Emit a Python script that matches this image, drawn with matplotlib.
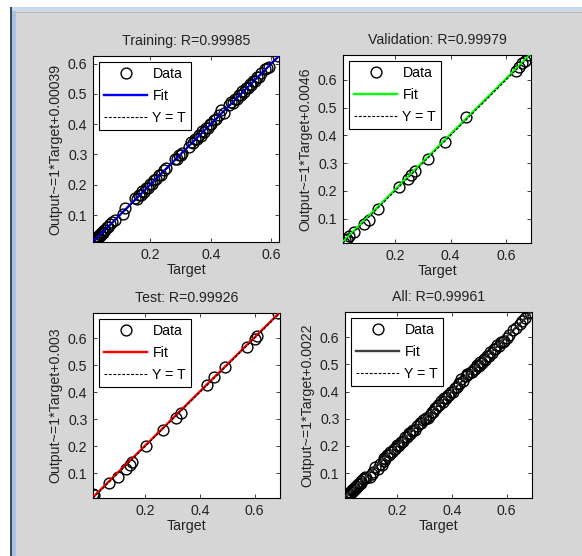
import numpy as np
import matplotlib
matplotlib.use("Agg")
import matplotlib.pyplot as plt
from matplotlib.patches import Rectangle

plt.rcParams['font.family'] = ['Liberation Sans', 'DejaVu Sans']

# ---------------- data ----------------
train_target = [0.011, 0.015, 0.018, 0.021, 0.024, 0.027, 0.030, 0.033, 0.036, 0.040,
                0.044, 0.048, 0.052, 0.057, 0.062, 0.068, 0.075, 0.082, 0.110, 0.118,
                0.150, 0.156, 0.162, 0.168, 0.174, 0.180, 0.186, 0.192, 0.198, 0.205,
                0.212, 0.220, 0.228, 0.236, 0.244, 0.252, 0.282, 0.288, 0.294, 0.300,
                0.306, 0.328, 0.336, 0.342, 0.348, 0.354, 0.360, 0.366, 0.372, 0.378,
                0.384, 0.390, 0.396, 0.402, 0.410, 0.418, 0.426, 0.434, 0.442, 0.460,
                0.468, 0.474, 0.480, 0.486, 0.492, 0.498, 0.504, 0.510, 0.516, 0.522,
                0.528, 0.534, 0.540, 0.546, 0.552, 0.558, 0.566, 0.578, 0.586, 0.592,
                0.622]
train_output = [0.012, 0.017, 0.016, 0.024, 0.022, 0.030, 0.028, 0.036, 0.034, 0.043,
                0.041, 0.051, 0.050, 0.060, 0.059, 0.071, 0.078, 0.085, 0.103, 0.124,
                0.156, 0.152, 0.166, 0.165, 0.178, 0.177, 0.190, 0.189, 0.202, 0.203,
                0.216, 0.218, 0.232, 0.233, 0.248, 0.254, 0.285, 0.286, 0.297, 0.298,
                0.304, 0.326, 0.340, 0.338, 0.352, 0.351, 0.364, 0.362, 0.376, 0.375,
                0.388, 0.387, 0.400, 0.399, 0.414, 0.416, 0.430, 0.446, 0.438, 0.464,
                0.472, 0.471, 0.484, 0.483, 0.496, 0.495, 0.508, 0.506, 0.520, 0.518,
                0.532, 0.530, 0.544, 0.542, 0.556, 0.555, 0.570, 0.582, 0.584, 0.588,
                0.625]

val_target = [0.014, 0.020, 0.026, 0.035, 0.051, 0.086, 0.106, 0.137, 0.215, 0.245,
              0.256, 0.272, 0.319, 0.379, 0.456, 0.636, 0.648, 0.658, 0.668, 0.678]
val_output = [0.012, 0.022, 0.025, 0.036, 0.052, 0.080, 0.096, 0.135, 0.214, 0.243,
              0.257, 0.272, 0.314, 0.377, 0.465, 0.634, 0.648, 0.660, 0.670, 0.690]

test_target = [0.008, 0.012, 0.068, 0.098, 0.128, 0.145, 0.150, 0.203, 0.265, 0.312,
               0.330, 0.424, 0.452, 0.492, 0.572, 0.600, 0.608, 0.684]
test_output = [0.022, 0.020, 0.065, 0.087, 0.115, 0.131, 0.143, 0.199, 0.258, 0.304,
               0.324, 0.427, 0.456, 0.493, 0.567, 0.596, 0.608, 0.693]

titles = ["Training: R=0.99985", "Validation: R=0.99979", "Test: R=0.99926", "All: R=0.99961"]
fit_slopes = [1.0, 1.0, 1.0, 1.0]
fit_offsets = [0.00039, 0.0046, 0.003, 0.0022]
ylabels = ["Output~=1*Target+0.00039", "Output~=1*Target+0.0046",
           "Output~=1*Target+0.003", "Output~=1*Target+0.0022"]
fit_colors = ["#0000ff", "#00ff00", "#ff0000", "#404040"]
legend_labels = ["Data", "Fit", "Y = T"]
xticks = [0.2, 0.4, 0.6]
yticks = [0.1, 0.2, 0.3, 0.4, 0.5, 0.6]

all_target = train_target + val_target + test_target
all_output = train_output + val_output + test_output
targets = [train_target, val_target, test_target, all_target]
outputs = [train_output, val_output, test_output, all_output]

# ---------------- figure ----------------
W, H = 582, 556
bg = "#d6d6d6"
fs = 10.2
fig = plt.figure(figsize=(W / 100, H / 100), dpi=100, facecolor=bg)

def px_rect(x0, y0, x1, y1, color, z=0):
    fig.patches.append(Rectangle((x0 / W, 1 - y1 / H), (x1 - x0) / W, (y1 - y0) / H,
                                 transform=fig.transFigure, facecolor=color,
                                 edgecolor='none', zorder=z))

# window frame decoration
px_rect(0, 0, W, 7, "#ffffff")
px_rect(10, 7, W, 11, "#c9d9ec")
px_rect(0, 0, 10, H, "#ffffff")
px_rect(10, 7, 11.5, H, "#3a4a5e")
px_rect(11.5, 11, 16, H, "#a9c3e3")
px_rect(16, 12, W, 13, "#bcbcbc")

positions = [(93, 56, 279, 242), (343, 55, 531, 243),
             (93, 313, 280, 498), (345, 312, 532, 498)]

for i in range(4):
    x0, y0, x1, y1 = positions[i]
    ax = fig.add_axes([x0 / W, 1 - y1 / H, (x1 - x0) / W, (y1 - y0) / H])
    t = np.array(targets[i])
    o = np.array(outputs[i])
    lo = min(t.min(), o.min())
    hi = max(t.max(), o.max())
    lims = np.array([lo, hi])
    ax.plot(t, o, 'o', markerfacecolor='none', markeredgecolor='black',
            markersize=7.8, markeredgewidth=1.0, label=legend_labels[0], zorder=2)
    ax.plot(lims, fit_slopes[i] * lims + fit_offsets[i], '-', color=fit_colors[i],
            linewidth=1.7, label=legend_labels[1], zorder=3)
    ax.plot(lims, lims, color='black', linestyle=(0, (2.5, 1.5)), linewidth=0.8,
            label=legend_labels[2], zorder=4)
    ax.set_xlim(lo, hi)
    ax.set_ylim(lo, hi)
    ax.set_xticks(xticks)
    ax.set_yticks(yticks)
    ax.set_xticklabels([f"{v:.1f}" for v in xticks])
    ax.set_yticklabels([f"{v:.1f}" for v in yticks])
    ax.tick_params(direction='in', length=3, width=0.6, top=True, right=True,
                   labelsize=fs, pad=4, colors='#222222')
    for s in ax.spines.values():
        s.set_linewidth(0.8)
    ax.set_title(titles[i], fontsize=fs, pad=8, color='#222222')
    ax.set_xlabel("Target", fontsize=fs, color='#222222')
    ax.set_ylabel(ylabels[i], fontsize=fs, color='#222222')
    ax.xaxis.set_label_coords(0.5, -0.15)
    ax.xaxis.label.set_verticalalignment('center')
    ax.yaxis.set_label_coords(-0.2, 0.5)
    ax.yaxis.label.set_verticalalignment('center')
    leg = ax.legend(loc='upper left', fontsize=fs, frameon=True, fancybox=False,
                    edgecolor='black', framealpha=1, handlelength=3.0,
                    borderaxespad=0.45, borderpad=0.35, labelspacing=0.55,
                    handletextpad=0.4, numpoints=1)
    leg.get_frame().set_linewidth(0.8)

fig.savefig("out.png", dpi=100, facecolor=bg)
